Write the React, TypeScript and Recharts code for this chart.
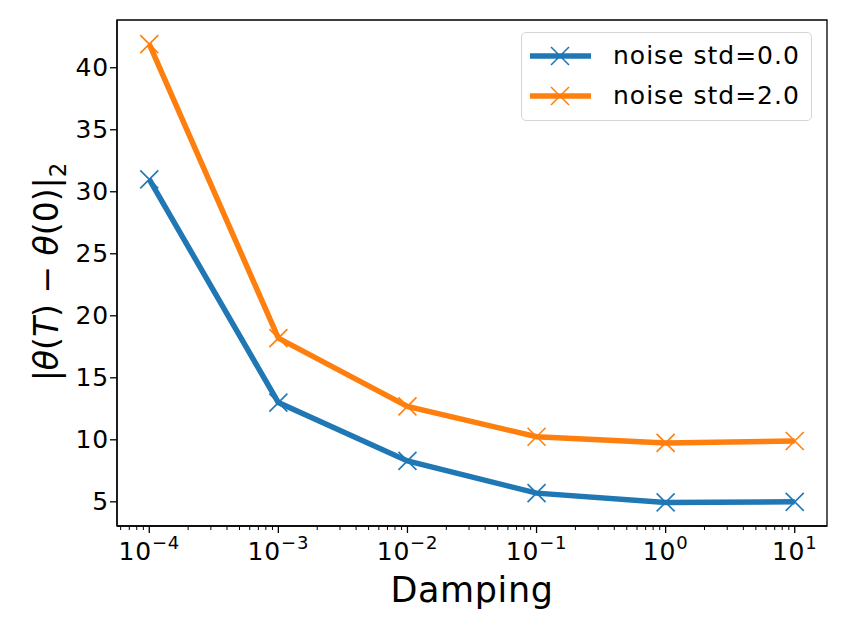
import { Legend, Line, LineChart, ReferenceArea, XAxis, YAxis } from "recharts";

const damping = [1e-4, 1e-3, 1e-2, 1e-1, 1, 10];
const noise0 = [31.0, 13.0, 8.3, 5.7, 4.95, 5.0];
const noise2 = [41.9, 18.2, 12.7, 10.25, 9.75, 9.9];
const seriesNames = ["noise std=0.0", "noise std=2.0"];
const colors = ["#1f77b4", "#ff7f0e"];
const xMajor = [1e-4, 1e-3, 1e-2, 1e-1, 1, 10];
const xExponents = ["\u22124", "\u22123", "\u22122", "\u22121", "0", "1"];
const yTicks = [5, 10, 15, 20, 25, 30, 35, 40];

const xDomain = [Math.pow(10, -4.25), Math.pow(10, 1.25)];
const yDomain = [3.05, 43.85];

const minorTicks: number[] = [];
for (let k = -5; k <= 1; k++) {
  for (let m = 2; m <= 9; m++) {
    const v = m * Math.pow(10, k);
    if (v >= xDomain[0] && v <= xDomain[1]) minorTicks.push(v);
  }
}
const allXTicks = [...xMajor, ...minorTicks].sort((a, b) => a - b);

const data = damping.map((d, i) => ({ damping: d, s0: noise0[i], s2: noise2[i] }));

const FONT = "'DejaVu Sans', sans-serif";

function XTick({ x, y, payload }: any) {
  const idx = xMajor.findIndex((v) => Math.abs(v - payload.value) / v < 1e-9);
  if (idx < 0) {
    return <line x1={x} x2={x} y1={y} y2={y + 4} stroke="#000" strokeWidth={1} />;
  }
  return (
    <g>
      <line x1={x} x2={x} y1={y} y2={y + 7} stroke="#000" strokeWidth={1.3} />
      <text x={x} y={y + 34} textAnchor="middle" fontFamily={FONT} fontSize={25} letterSpacing={0.8} fill="#000">
        10
        <tspan dy={-11} fontSize={18}>{xExponents[idx]}</tspan>
      </text>
    </g>
  );
}

function YTick({ x, y, payload }: any) {
  return (
    <g>
      <line x1={x - 7} x2={x} y1={y} y2={y} stroke="#000" strokeWidth={1.3} />
      <text x={x - 8} y={y + 8.5} textAnchor="end" fontFamily={FONT} fontSize={25} letterSpacing={0.8} fill="#000">
        {payload.value}
      </text>
    </g>
  );
}

function XDot({ cx, cy, stroke }: any) {
  const r = 9;
  return (
    <g stroke={stroke} strokeWidth={1.6}>
      <line x1={cx - r} y1={cy - r} x2={cx + r} y2={cy + r} />
      <line x1={cx - r} y1={cy + r} x2={cx + r} y2={cy - r} />
    </g>
  );
}

function LegendBox() {
  return (
    <div
      style={{
        width: 289,
        height: 87,
        border: "1.5px solid #d5d5d5",
        borderRadius: 5,
        background: "rgba(255,255,255,0.8)",
        fontFamily: FONT,
        fontSize: 25,
        letterSpacing: 1,
        color: "#000",
        boxSizing: "content-box",
      }}
    >
      {seriesNames.map((name, i) => (
        <div key={name} style={{ display: "flex", alignItems: "center", height: 40, marginTop: i === 0 ? 3 : 0 }}>
          <svg width={84} height={30} style={{ marginLeft: 7 }}>
            <line x1={1} x2={62} y1={15} y2={15} stroke={colors[i]} strokeWidth={5.5} />
            <XDot cx={31} cy={15} stroke={colors[i]} />
          </svg>
          <span style={{ marginLeft: 0, lineHeight: "30px" }}>{name}</span>
        </div>
      ))}
    </div>
  );
}

const xLabel = () => (
  <text x={472} y={602} textAnchor="middle" fontFamily={FONT} fontSize={35} letterSpacing={0.6} fill="#000">
    Damping
  </text>
);

const yLabel = () => (
  <text
    x={58}
    y={272}
    transform="rotate(-90 58 272)"
    textAnchor="middle"
    fontFamily={FONT}
    fontSize={33}
    fill="#000"
  >
    |<tspan fontStyle="italic">θ</tspan>(<tspan fontStyle="italic">T</tspan>) − <tspan fontStyle="italic">θ</tspan>(0)|
    <tspan fontSize={23} dy={8}>2</tspan>
  </text>
);

export default function App() {
  return (
    <div style={{ position: "absolute", left: 0, top: 0, width: 847, height: 635, background: "#fff" }}>
      <LineChart width={847} height={635} data={data} margin={{ top: 20, right: 20, bottom: 49, left: 57 }}>
        <XAxis
          xAxisId="bottom"
          dataKey="damping"
          type="number"
          scale="log"
          domain={xDomain}
          allowDataOverflow
          ticks={allXTicks}
          interval={0}
          tick={<XTick />}
          tickLine={false}
          tickSize={0}
          tickMargin={0}
          height={60}
          axisLine={{ stroke: "#000", strokeWidth: 1.3 }}
          label={xLabel}
        />
        <YAxis
          yAxisId="left"
          type="number"
          domain={yDomain}
          allowDataOverflow
          ticks={yTicks}
          interval={0}
          tick={<YTick />}
          tickLine={false}
          tickSize={0}
          tickMargin={0}
          width={60}
          axisLine={{ stroke: "#000", strokeWidth: 1.3 }}
          label={yLabel}
        />
        <ReferenceArea
          xAxisId="bottom"
          yAxisId="left"
          x1={xDomain[0]}
          x2={xDomain[1]}
          y1={yDomain[0]}
          y2={yDomain[1]}
          fill="none"
          fillOpacity={0}
          stroke="#000"
          strokeWidth={1.3}
          ifOverflow="visible"
        />
        <Legend
          layout="horizontal"
          verticalAlign="middle"
          align="center"
          wrapperStyle={{ left: 521, top: 32, width: "auto" }}
          content={<LegendBox />}
        />
        {[
          ["s0", 0],
          ["s2", 1],
        ].map(([key, i]: any) => (
          <Line
            key={key}
            xAxisId="bottom"
            yAxisId="left"
            type="linear"
            dataKey={key}
            name={seriesNames[i]}
            stroke={colors[i]}
            strokeWidth={5.5}
            dot={<XDot stroke={colors[i]} />}
            activeDot={false}
            isAnimationActive={false}
          />
        ))}
      </LineChart>
    </div>
  );
}
